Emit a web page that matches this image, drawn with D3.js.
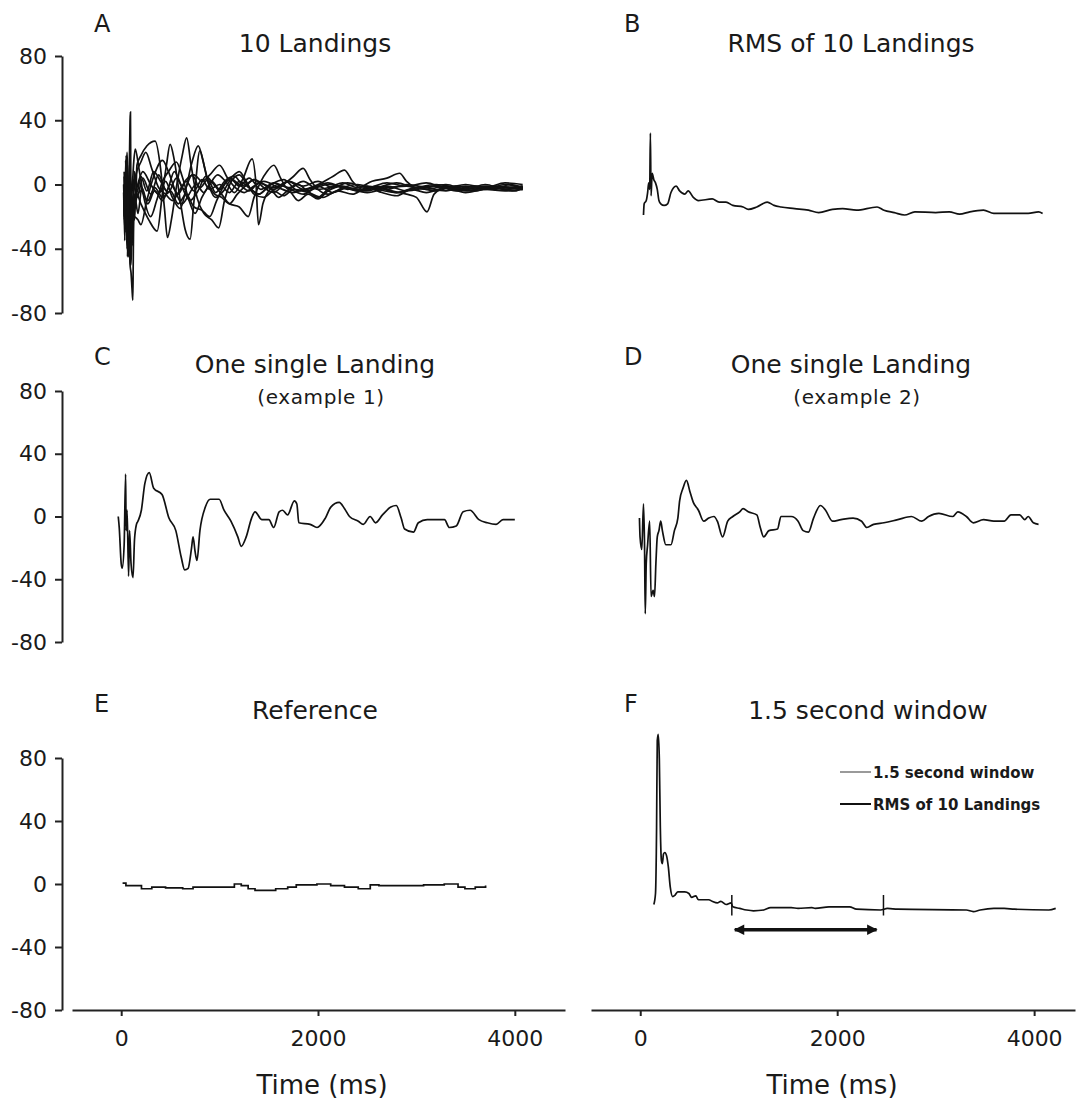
<!DOCTYPE html>
<html>
<head>
<meta charset="utf-8">
<script src="https://cdn.jsdelivr.net/npm/d3@7"></script>
<style>
  body { margin: 0; background: #fff; }
  svg text { font-family: "DejaVu Sans", Verdana, sans-serif; fill: #1a1a1a; }
</style>
</head>
<body>
<div id="chart"></div>
<script>
// ---- datos: [tiempo ms, valor] ----

// A: 10 aterrizajes superpuestos
const landing1 = [[30,0],[38,-25],[45,-8],[52,15],[60,-5],[68,-38],[76,-18],[84,6],[92,-15],[100,-32],[110,-12],[120,-26],[132,-6],[145,-14],[160,12],[200,18],[260,24],[345,27],[400,10],[440,-15],[470,-33],[510,-22],[560,-2],[620,18],[665,29],[710,12],[770,-8],[840,-18],[920,-22],[990,-27],[1050,-10],[1120,2],[1200,6],[1300,-2],[1400,-6],[1500,-1],[1650,3],[1800,-4],[1950,-2],[2100,1],[2300,-3],[2500,-1],[2700,-3],[2900,0],[3100,-2],[3300,-4],[3500,-1],[3700,-3],[3900,0],[4080,-2]];
const landing2 = [[30,5],[36,-30],[43,-10],[50,18],[57,0],[64,-45],[71,-20],[78,-35],[86,-8],[94,-40],[102,-20],[112,-38],[122,-15],[135,-22],[150,-5],[200,-12],[280,-22],[365,-29],[420,-5],[460,12],[497,25],[540,15],[600,-10],[650,-28],[700,-34],[740,-10],[800,21],[850,10],[900,-2],[960,-8],[1040,-4],[1120,3],[1200,-1],[1300,4],[1420,-3],[1550,1],[1700,-2],[1850,2],[2000,-3],[2200,-1],[2400,-4],[2600,-2],[2800,1],[3000,-2],[3200,-1],[3400,-3],[3600,-1],[3800,-2],[4080,-1]];
const landing3 = [[35,-10],[42,-28],[50,10],[58,-5],[65,-25],[72,-12],[80,2],[88,-20],[95,-30],[103,-10],[110,-5],[125,12],[143,22],[180,10],[230,-8],[300,-20],[360,-10],[420,2],[480,8],[560,14],[620,5],[690,-10],[750,-18],[820,-8],[900,0],[980,6],[1060,2],[1150,-5],[1240,4],[1330,16],[1370,0],[1395,-25],[1440,-12],[1500,-4],[1600,0],[1720,-3],[1850,-6],[1950,-3],[2100,0],[2300,-2],[2500,-5],[2700,-2],[2900,-1],[3100,-3],[3300,-1],[3500,-4],[3700,-2],[3900,-3],[4080,-1]];
const landing4 = [[25,-5],[32,-22],[40,5],[48,-10],[55,-25],[63,-5],[70,2],[78,-18],[86,-28],[95,-15],[105,-2],[120,3],[160,-8],[220,4],[300,-6],[380,6],[460,-4],[540,8],[620,-2],[700,-10],[780,-4],[860,5],[940,0],[1020,-6],[1100,-12],[1200,-14],[1290,-20],[1350,-8],[1420,2],[1480,8],[1552,12],[1620,4],[1700,-3],[1800,0],[1900,-4],[2000,-1],[2150,-5],[2300,-2],[2500,-4],[2700,-1],[2900,-4],[3100,-2],[3300,0],[3500,-3],[3700,-1],[3900,-2],[4080,-3]];
const landing5 = [[30,-15],[36,-35],[45,0],[52,-20],[60,-30],[68,-10],[76,-25],[84,-42],[92,-20],[100,-40],[110,-25],[125,-12],[160,-2],[220,8],[300,0],[380,-6],[450,2],[520,-8],[600,-15],[660,-2],[720,14],[783,24],[830,15],[880,2],[950,-6],[1020,-8],[1100,-12],[1180,-6],[1260,-1],[1350,3],[1450,-2],[1550,-5],[1650,0],[1750,5],[1849,10],[1920,3],[2000,-3],[2100,-6],[2250,-2],[2400,0],[2600,-3],[2800,-5],[3000,-2],[3200,0],[3400,-2],[3600,-4],[3800,-1],[4080,-3]];
const landing6 = [[35,0],[42,-15],[50,-22],[58,5],[65,12],[75,-10],[85,-30],[95,-15],[105,-8],[115,-25],[130,-20],[170,-22],[200,-25],[260,-10],[330,5],[420,15],[480,8],[550,-4],[620,-12],[690,-6],[760,0],[840,-5],[920,2],[1000,-3],[1100,4],[1200,0],[1300,-4],[1400,1],[1550,-2],[1700,2],[1850,-3],[2000,0],[2150,5],[2269,9],[2350,2],[2450,-3],[2600,-1],[2750,-4],[2900,-6],[3000,-8],[3108,-17],[3180,-6],[3300,-2],[3500,-3],[3700,0],[3900,-3],[4080,-2]];
const landing7 = [[30,8],[37,-5],[45,-12],[52,10],[60,20],[68,0],[75,-18],[85,-2],[95,5],[105,-20],[115,-10],[130,-3],[150,6],[200,14],[250,20],[310,10],[380,-2],[450,-6],[520,-10],[590,-4],[660,3],[740,6],[820,2],[900,6],[1000,12],[1080,4],[1160,-2],[1250,-5],[1350,-1],[1450,2],[1600,-2],[1750,-5],[1850,-3],[2000,-8],[2100,-3],[2250,1],[2400,-2],[2550,2],[2700,4],[2829,7],[2900,2],[3000,-2],[3200,-1],[3400,-4],[3600,-2],[3800,-3],[3950,0],[4080,-2]];
const landing8 = [[30,-8],[37,-30],[45,15],[52,-5],[60,-28],[68,-12],[76,-40],[84,-25],[92,-48],[100,-50],[108,-30],[120,-20],[150,-10],[200,-4],[270,-10],[340,-2],[420,-8],[500,-4],[580,-12],[660,-6],[740,-14],[820,-16],[900,-20],[970,-10],[1050,0],[1130,5],[1200,8],[1270,2],[1350,-6],[1450,-8],[1550,-4],[1650,-7],[1750,-3],[1900,-5],[2050,-8],[2200,-4],[2350,-6],[2500,-2],[2650,-5],[2800,-7],[2950,-3],[3100,-5],[3300,-2],[3500,-5],[3700,-3],[3900,-4],[4080,-3]];
const landing9 = [[25,0],[32,-15],[40,-20],[48,5],[55,10],[62,-15],[70,-30],[78,-5],[85,20],[90,40],[94,45],[97,10],[100,-10],[108,-30],[115,-25],[125,-5],[135,8],[160,-5],[200,5],[260,-4],[330,8],[400,2],[480,-5],[560,4],[640,-3],[720,6],[800,-2],[880,3],[960,-5],[1050,2],[1150,5],[1250,-1],[1350,3],[1450,0],[1550,-3],[1700,2],[1850,-1],[2000,2],[2150,-2],[2300,1],[2500,-2],[2700,1],[2900,-1],[3100,1],[3300,-2],[3500,0],[3700,-2],[3900,1],[4080,0]];
const landing10 = [[30,-20],[37,-5],[45,5],[52,-25],[60,-40],[68,-20],[75,-45],[82,-30],[90,-50],[100,-55],[110,-65],[118,-72],[122,-50],[125,-30],[132,-15],[140,-8],[170,-18],[210,-2],[270,-12],[340,-4],[420,-10],[500,0],[580,-6],[660,2],[740,-4],[820,3],[900,-3],[1000,0],[1100,-5],[1200,2],[1300,-2],[1400,-6],[1500,-2],[1600,-8],[1700,-4],[1800,-10],[1900,-6],[2000,-9],[2100,-4],[2250,-1],[2400,-4],[2600,-2],[2800,-5],[3000,-2],[3200,-4],[3400,-1],[3600,-3],[3800,-2],[4000,-4],[4080,-2]];

// B: RMS de los 10 aterrizajes
const rmsLandings = [[33,-19],[40,-12],[61,-10],[75,-5],[86,1],[96,-3],[103,32],[110,-7],[121,7],[138,3],[155,1],[173,-3],[190,-10],[208,-12],[243,-13],[278,-12],[312,-5],[365,-1],[400,-4],[452,-6],[487,-4],[539,-8],[591,-10],[731,-9],[801,-11],[871,-11],[940,-13],[1045,-14],[1097,-15.5],[1184,-14],[1289,-11],[1359,-13],[1429,-14],[1568,-15],[1708,-16],[1812,-17.5],[1952,-15.5],[2056,-15],[2196,-16],[2405,-14],[2475,-16],[2580,-17.5],[2684,-19],[2789,-17],[3000,-17.5],[3138,-17],[3243,-18.5],[3347,-17],[3486,-16],[3591,-18],[3766,-18],[3940,-18],[4045,-17],[4086,-18]];

// C: un solo aterrizaje (ejemplo 1)
const singleLanding1 = [[-30,0],[-20,-7],[0,-30],[10,-33],[30,-18],[45,27],[50,-9],[60,4],[75,-38],[85,-9],[100,-30],[120,-39],[135,-15],[155,-5],[170,-3],[205,4],[240,21],[285,28],[330,18],[415,14],[485,-1],[555,-9],[610,-26],[645,-34],[680,-33],[715,-20],[730,-13],[750,-22],[770,-28],[800,-9],[855,6],[905,11],[995,11],[1045,4],[1115,-3],[1185,-13],[1220,-19],[1270,-13],[1325,-1],[1360,3],[1430,-2],[1500,-2],[1550,-7],[1605,3],[1640,4],[1690,1],[1760,10],[1785,8],[1805,-4],[1920,-5],[1990,-7],[2075,-1],[2130,6],[2215,9],[2270,5],[2320,0],[2410,-3],[2460,-5],[2530,0],[2585,-4],[2655,1],[2740,6],[2795,7],[2845,-1],[2880,-8],[2970,-10],[3020,-4],[3110,-2],[3285,-2],[3335,-7],[3405,-6],[3475,3],[3545,4],[3635,-2],[3720,-4],[3810,-5],[3880,-2],[4000,-2]];

// D: un solo aterrizaje (ejemplo 2)
const singleLanding2 = [[-8,-1],[-2,-13],[16,-21],[33,8],[44,-20],[51,-62],[61,-30],[75,-18],[96,-3],[110,-51],[131,-47],[145,-51],[159,-30],[173,-13],[190,-9],[208,-3],[225,-9],[260,-18],[312,-18],[347,-9],[382,-1],[400,10],[434,18],[469,23],[504,16],[539,9],[591,4],[644,-3],[696,-1],[749,0],[783,-3],[836,-13],[888,-3],[940,0],[1010,3],[1045,5],[1097,3],[1184,1],[1219,-7],[1254,-13],[1307,-9],[1394,-8],[1429,0],[1533,0],[1603,-3],[1655,-9],[1708,-10],[1760,-1],[1830,7],[1882,4],[1952,-3],[2039,-2],[2161,-1],[2248,-3],[2301,-7],[2370,-5],[2475,-4],[2615,-2],[2754,0],[2859,-3],[2928,0],[3033,2],[3173,0],[3225,3],[3312,0],[3382,-4],[3486,-2],[3591,-3],[3696,-3],[3765,1],[3853,1],[3905,-2],[3940,0],[3992,-4],[4045,-5]];

// E: referencia
const referenceTrace = [[14,0.5],[48,-1],[206,-3],[311,-2],[451,-2.5],[625,-3],[730,-2],[1010,-2],[1150,0],[1220,-1],[1290,-3],[1360,-4],[1570,-3],[1692,-2],[1779,-0.5],[1989,0],[2129,-1],[2269,-2],[2409,-3],[2531,-0.5],[2619,-1],[2829,-1],[3073,-0.5],[3283,0],[3423,-2],[3493,-3],[3598,-2],[3703,-1]];

// F: RMS con la ventana de 1.5 s
const rmsWindow = [[138,-13],[155,-6],[166,36],[173,91],[183,95],[194,79],[204,36],[215,15],[225,13],[236,19],[250,20],[267,18],[285,11],[305,-2],[330,-8],[354,-7],[382,-5],[452,-5],[494,-6],[522,-8.5],[564,-7.5],[591,-10],[626,-10],[696,-10],[731,-11],[783,-12],[818,-11],[871,-13],[923,-12],[940,-14.5],[1010,-15.5],[1080,-16.5],[1150,-17],[1254,-16.5],[1324,-15],[1533,-15],[1603,-15.5],[1743,-15],[1777,-15.5],[1917,-14.5],[2126,-14.5],[2196,-16],[2440,-16.5],[2510,-15.5],[2615,-16],[3312,-16.5],[3382,-17.5],[3452,-16.5],[3591,-15.5],[3696,-15.5],[3800,-16],[4149,-16.5],[4219,-15.5]];
const windowMarks = [930, 2470];
const windowArrow = [960, 2400];
const arrowLevel = -29;
const legendLabels = ["1.5 second window", "RMS of 10 Landings"];
const legendColors = ["#9a9a9a", "#111"];

const yTicks = [-80, -40, 0, 40, 80];
const xTicks = [0, 2000, 4000];

// ---- configuracion ----
const width = 1078;
const height = 1101;
const rowRanges = [[313, 56], [642, 391], [1010, 758]];

const svg = d3.select("#chart")
  .append("svg")
  .attr("width", width)
  .attr("height", height);

const defs = svg.append("defs");
defs.append("marker")
  .attr("id", "arrowHead")
  .attr("viewBox", "0 0 10 10")
  .attr("refX", 9)
  .attr("refY", 5)
  .attr("markerWidth", 4)
  .attr("markerHeight", 3)
  .attr("markerUnits", "strokeWidth")
  .attr("orient", "auto-start-reverse")
  .append("path")
  .attr("d", "M0,0 L10,5 L0,10 z")
  .attr("fill", "#111");

// escalas: una por columna en x, una por fila en y
const xLeft = d3.scaleLinear().domain([-500, 4510]).range([72, 565]);
const xRight = d3.scaleLinear().domain([-500, 4415]).range([591, 1075]);
const yRows = rowRanges.map(r => d3.scaleLinear().domain([-80, 80]).range(r));

const panels = [
  { letter: "A", title: "10 Landings", col: 0, row: 0, series: [landing1, landing2, landing3, landing4, landing5, landing6, landing7, landing8, landing9, landing10] },
  { letter: "B", title: "RMS of 10 Landings", col: 1, row: 0, series: [rmsLandings] },
  { letter: "C", title: "One single Landing", sub: "(example 1)", col: 0, row: 1, series: [singleLanding1] },
  { letter: "D", title: "One single Landing", sub: "(example 2)", col: 1, row: 1, series: [singleLanding2] },
  { letter: "E", title: "Reference", col: 0, row: 2, series: [referenceTrace], step: true },
  { letter: "F", title: "1.5 second window", col: 1, row: 2, series: [rmsWindow] },
];

// posiciones de textos de cada panel
const letterX = [94, 624];
const titleX = [315, 851];
const letterY = [32, 365, 712];
const titleY = [52, 373, 719];
const subY = 404;

panels.forEach(p => {
  const x = p.col === 0 ? xLeft : xRight;
  const y = yRows[p.row];

  svg.append("text")
    .attr("x", letterX[p.col])
    .attr("y", letterY[p.row])
    .attr("font-size", 24)
    .text(p.letter);

  svg.append("text")
    .attr("x", titleX[p.col] + (p.letter === "F" ? 17 : 0))
    .attr("y", titleY[p.row])
    .attr("text-anchor", "middle")
    .attr("font-size", 25)
    .text(p.title);

  if (p.sub) {
    svg.append("text")
      .attr("x", titleX[p.col] + 6)
      .attr("y", subY)
      .attr("text-anchor", "middle")
      .attr("font-size", 20)
      .attr("letter-spacing", 0.6)
      .text(p.sub);
  }

  const line = d3.line()
    .x(d => x(d[0]))
    .y(d => y(d[1]))
    .curve(p.step ? d3.curveStepAfter : d3.curveMonotoneX);

  svg.append("g")
    .selectAll("path")
    .data(p.series)
    .enter().append("path")
    .attr("d", line)
    .attr("fill", "none")
    .attr("stroke", "#111")
    .attr("stroke-width", 1.7)
    .attr("stroke-linejoin", "miter");
});

// eje y solo en la columna izquierda
yRows.forEach(y => {
  const g = svg.append("g")
    .attr("transform", "translate(62,0)")
    .call(d3.axisLeft(y).tickValues(yTicks).tickFormat(d => String(d))
      .tickSizeInner(7).tickSizeOuter(0).tickPadding(8));
  g.selectAll("path, line").attr("stroke", "#222").attr("stroke-width", 2);
  g.selectAll("text").attr("font-size", 22).attr("font-family", null).attr("fill", "#1a1a1a");
});

// eje x en la fila inferior
[xLeft, xRight].forEach(x => {
  const g = svg.append("g")
    .attr("transform", "translate(0,1010)")
    .call(d3.axisBottom(x).tickValues(xTicks).tickFormat(d => String(d))
      .tickSizeInner(6).tickSizeOuter(0).tickPadding(14));
  g.selectAll("path, line").attr("stroke", "#222").attr("stroke-width", 2);
  g.selectAll("text").attr("font-size", 22).attr("font-family", null).attr("fill", "#1a1a1a");
});

[322, 832].forEach(cx => {
  svg.append("text")
    .attr("x", cx)
    .attr("y", 1094)
    .attr("text-anchor", "middle")
    .attr("font-size", 26)
    .text("Time (ms)");
});

// marcas de la ventana en el panel F
const yF = yRows[2];
svg.append("g")
  .selectAll("line")
  .data(windowMarks)
  .enter().append("line")
  .attr("x1", d => xRight(d))
  .attr("x2", d => xRight(d))
  .attr("y1", yF(-7))
  .attr("y2", yF(-20))
  .attr("stroke", "#111")
  .attr("stroke-width", 1.5);

svg.append("line")
  .attr("x1", xRight(windowArrow[0]))
  .attr("x2", xRight(windowArrow[1]))
  .attr("y1", yF(arrowLevel))
  .attr("y2", yF(arrowLevel))
  .attr("stroke", "#111")
  .attr("stroke-width", 3.5)
  .attr("marker-start", "url(#arrowHead)")
  .attr("marker-end", "url(#arrowHead)");

// leyenda del panel F
const legend = svg.append("g").attr("transform", "translate(840,772)");
legendLabels.forEach((lab, i) => {
  legend.append("line")
    .attr("x1", 0).attr("x2", 31)
    .attr("y1", i * 32).attr("y2", i * 32)
    .attr("stroke", legendColors[i])
    .attr("stroke-width", 2);
  legend.append("text")
    .attr("x", 33)
    .attr("y", i * 32 + 6)
    .attr("font-size", 15)
    .attr("font-weight", "bold")
    .text(lab);
});
</script>
</body>
</html>
